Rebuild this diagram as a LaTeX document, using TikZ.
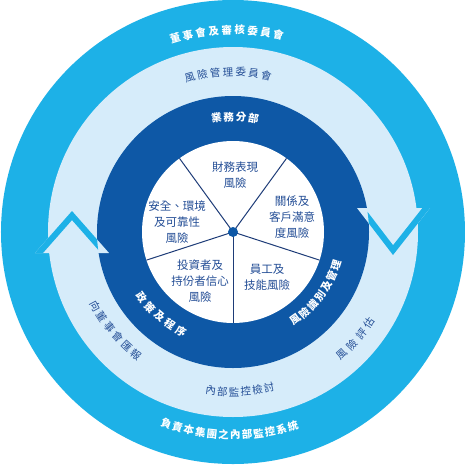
\documentclass[tikz,border=0pt]{standalone}
\usepackage{fontspec}
\newfontfamily\cjk{Noto Sans CJK TC}
\definecolor{outercyan}{RGB}{29,177,231}
\definecolor{palering}{RGB}{214,236,250}
\definecolor{deepring}{RGB}{14,88,166}
\definecolor{textblue}{RGB}{36,78,150}
\definecolor{spokeblue}{RGB}{30,60,120}
\tikzset{
  ringwhite/.style={font=\cjk\bfseries\fontsize{10.5}{12}\selectfont,text=white,inner sep=0pt},
  ringblue/.style={font=\cjk\fontsize{10.5}{12}\selectfont,text=textblue,inner sep=0pt},
  wedgetext/.style={font=\cjk\fontsize{11.5}{16}\selectfont,text=textblue,align=center,inner sep=0pt},
  bandline/.style={outercyan,line width=12pt,line join=miter}
}

\begin{document}
\begin{tikzpicture}[x=1pt,y=1pt]
\useasboundingbox (-233,-232) rectangle (232,232);
\fill[white] (-233,-232) rectangle (232,232);
% rings
\fill[outercyan] (0,0) circle[radius=232pt];
\fill[palering] (0,0) circle[radius=185pt];
\fill[deepring] (0,0) circle[radius=136pt];
\fill[white] (0,0) circle[radius=91pt];
% arrow heads on the pale ring
\coordinate (upL) at (-198,-21);
\coordinate (upT) at (-161,21);
\coordinate (upR) at (-124,-21);
\coordinate (dnL) at (124,24);
\coordinate (dnT) at (160,-23);
\coordinate (dnR) at (197,24);
\fill[palering] (upL) -- (upT) -- (upR) -- cycle;
\fill[palering] (dnL) -- (dnT) -- (dnR) -- cycle;
\begin{scope}[even odd rule]
  \clip (-233,-232) rectangle (232,232) (0,0) circle[radius=136pt];
  \begin{scope}
    \clip (upL) -- (upT) -- (upR) -- cycle;
    \draw[bandline] (upL) -- (upT) -- (upR);
  \end{scope}
  \begin{scope}
    \clip (dnL) -- (dnT) -- (dnR) -- cycle;
    \draw[bandline] (dnL) -- (dnT) -- (dnR);
  \end{scope}
\end{scope}
% spokes and hub
\foreach \a [count=\k] in {-90,-18,54,126,198} {
  \coordinate (rim-\k) at (\a:91pt);
  \draw[spokeblue,line width=1pt] (0,0) -- (rim-\k);
}
\node[circle,fill=deepring,minimum size=10pt,inner sep=0pt] (hub) at (0,0) {};
% wedge labels
\node[wedgetext] (finance) at (2,57) {財務表現\\風險};
\node[wedgetext] (client) at (59,15) {關係及\\客戶滿意\\度風險};
\node[wedgetext] (staff) at (34,-45) {員工及\\技能風險};
\node[wedgetext] (investor) at (-33,-49) {投資者及\\持份者信心\\風險};
\node[wedgetext] (safety) at (-56,10) {安全、環境\\及可靠性\\風險};
% curved ring texts, top half
\foreach \ch [count=\i] in {董,事,會,及,審,核,委,員,會}
  \node[ringwhite,rotate={1.8+(5-\i)*3.7}] (board-\i) at ({91.8+(5-\i)*3.7}:202pt) {\ch};
\foreach \ch [count=\i] in {風,險,管,理,委,員,會}
  \node[ringblue,rotate={1.8+(4-\i)*4.6}] (riskcom-\i) at ({91.8+(4-\i)*4.6}:160pt) {\ch};
\foreach \ch [count=\i] in {業,務,分,部}
  \node[ringwhite,rotate={-1+(2.5-\i)*6.2}] (unit-\i) at ({89+(2.5-\i)*6.2}:115pt) {\ch};
% curved ring texts, bottom half
\foreach \ch [count=\i] in {內,部,監,控,檢,討}
  \node[ringblue,rotate={2.5+(\i-3.5)*4.2}] (review-\i) at ({272.5+(\i-3.5)*4.2}:160pt) {\ch};
\foreach \ch [count=\i] in {負,責,本,集,團,之,內,部,監,控,系,統}
  \node[ringwhite,rotate={-1+(\i-6.5)*3.3}] (system-\i) at ({269+(\i-6.5)*3.3}:203pt) {\ch};
\foreach \ch [count=\i] in {政,策,及,程,序}
  \node[ringwhite,rotate={-41+(\i-3)*6.6}] (policy-\i) at ({229+(\i-3)*6.6}:112pt) {\ch};
\foreach \ch [count=\i] in {向,董,事,會,匯,報}
  \node[ringblue,rotate={-50+(\i-3.5)*4.7}] (report-\i) at ({220+(\i-3.5)*4.7}:156pt) {\ch};
\foreach \ch [count=\i] in {風,險,識,別,及,管,理}
  \node[ringwhite,rotate={54+(\i-4)*6.1}] (identify-\i) at ({324+(\i-4)*6.1}:108pt) {\ch};
\foreach \ch [count=\i] in {風,險,評,估}
  \node[ringblue,rotate={49+(\i-2.5)*4.8}] (assess-\i) at ({319+(\i-2.5)*4.8}:164pt) {\ch};
\end{tikzpicture}
\end{document}
